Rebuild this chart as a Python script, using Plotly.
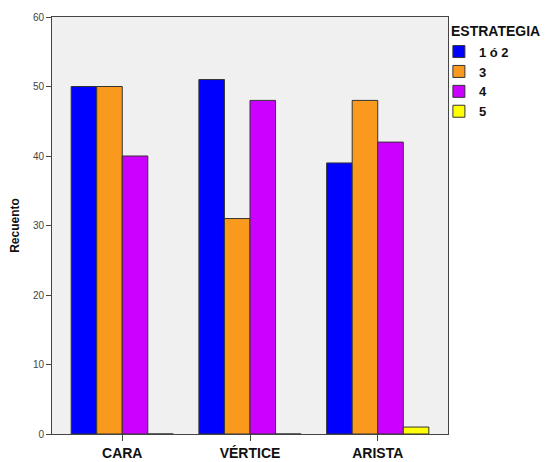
import plotly.graph_objects as go

categories = ["CARA", "VÉRTICE", "ARISTA"]
series_names = ["1 ó 2", "3", "4", "5"]
values_1o2 = [50, 51, 39]
values_3 = [50, 31, 48]
values_4 = [40, 48, 42]
values_5 = [0, 0, 1]
colors = ["#0000FF", "#F99A1F", "#CC00FF", "#FFFF00"]

fig = go.Figure()
for name, vals, col in zip(series_names, [values_1o2, values_3, values_4, values_5], colors):
    fig.add_trace(go.Bar(
        x=categories, y=vals, name=name,
        marker=dict(color=col, line=dict(color="#333333", width=1)),
    ))

# page body has an 8px margin, so the figure is sized/offset to compensate
fig.update_layout(
    width=544, height=454,
    margin=dict(l=44, r=104, t=9, b=28, autoexpand=False),
    barmode="group", bargap=0.2, bargroupgap=0,
    paper_bgcolor="white", plot_bgcolor="#F0F0F0",
    font=dict(family="Liberation Sans, Arial, sans-serif", color="#222222"),
    legend=dict(
        font=dict(size=13, weight="bold", color="#111111"),
        x=0.977, xanchor="left", y=0.953, yanchor="top",
        bgcolor="rgba(0,0,0,0)", tracegroupgap=0, itemwidth=30,
    ),
    annotations=[dict(
        text="ESTRATEGIA", xref="paper", yref="paper", x=1.003, y=0.966,
        xanchor="left", yanchor="middle", showarrow=False,
        font=dict(size=14, weight="bold", color="#111111"),
    )],
    xaxis=dict(
        range=[-0.55, 2.55], showline=True, mirror=True, linecolor="#444444", linewidth=1,
        ticks="outside", ticklen=6, tickcolor="#444444",
        tickfont=dict(size=14, weight="bold", color="#111111"),
        showgrid=False, automargin=False,
    ),
    yaxis=dict(
        range=[0, 60], dtick=10, showline=True, mirror=True, linecolor="#444444", linewidth=1,
        ticks="outside", ticklen=5, tickcolor="#444444",
        tickfont=dict(size=10, color="#444444"),
        showgrid=False, zeroline=False, automargin=False,
        title=dict(text="Recuento", font=dict(size=12, weight="bold", color="#111111")),
    ),
)

fig.write_html("out.html")
